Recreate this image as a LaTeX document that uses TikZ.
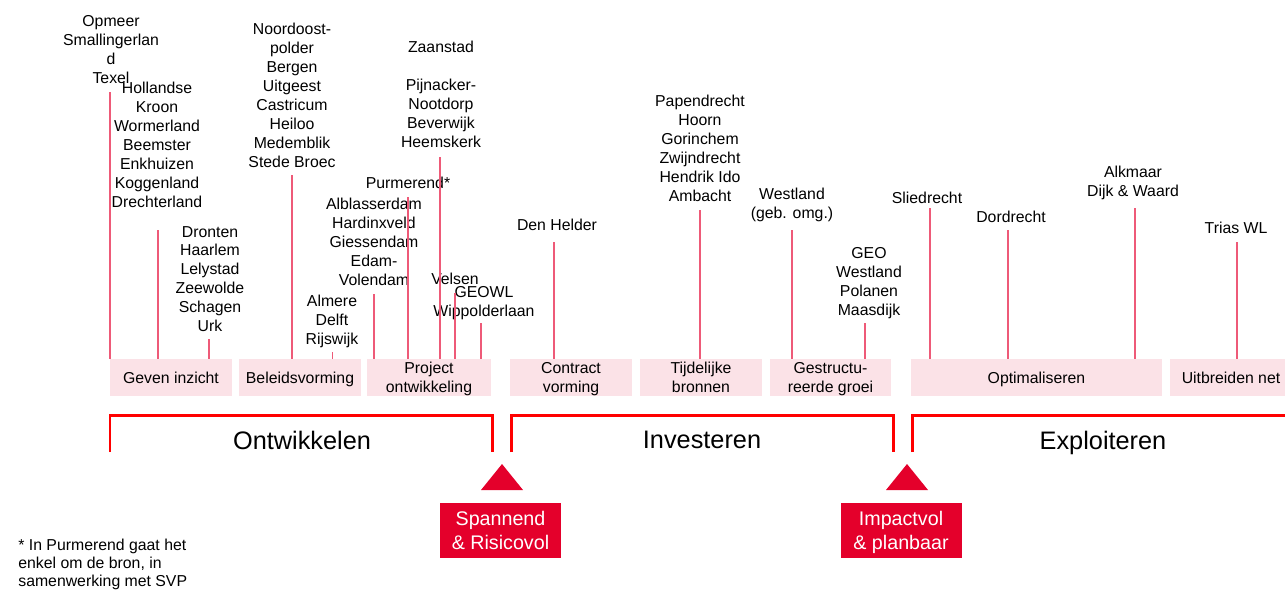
\documentclass[tikz,border=0pt]{standalone}
\usepackage{fontspec}
\setmainfont{Liberation Sans}
\usetikzlibrary{positioning}

\definecolor{linkpink}{RGB}{238,90,120}
\definecolor{boxpink}{RGB}{251,226,231}
\definecolor{brred}{RGB}{255,0,0}
\definecolor{gatered}{RGB}{228,0,43}

\tikzset{
	lbl/.style={align=center, inner sep=0pt, text depth=0pt, font=\fontsize{9}{10.8}\selectfont},
	phasebox/.style={fill=boxpink, minimum width=24.4mm, minimum height=7.4mm, inner sep=0pt, text depth=0pt, align=center, font=\fontsize{9}{10.8}\selectfont},
	link/.style={draw=linkpink, line width=0.6pt},
	bracket/.style={draw=brred, line width=1.7pt},
	gatebox/.style={fill=gatered, text=white, minimum width=24.2mm, minimum height=11mm, inner sep=0pt, text depth=0pt, align=center, font=\fontsize{11.2}{13.6}\selectfont},
	phase/.style={inner sep=0pt, text depth=0pt, font=\fontsize{14.4}{17}\selectfont},
}

\begin{document}
\begin{tikzpicture}[x=0.2mm, y=-0.2mm]
	\useasboundingbox (0,0) rectangle (1285,589);
	% steps
	\node[phasebox] (gev) at (171,377.5) {Geven inzicht};
	\node[phasebox] (bel) at (300,377.5) {Beleidsvorming};
	\node[phasebox, minimum width=24.8mm] (pro) at (429,377.5) {Project\\ontwikkeling};
	\node[phasebox] (con) at (571,377.5) {Contract\\vorming};
	\node[phasebox] (tij) at (701,377.5) {Tijdelijke\\bronnen};
	\node[phasebox, minimum width=24.2mm] (ges) at (830.5,377.5) {Gestructu-\\reerde groei};
	\node[phasebox, minimum width=50.2mm] (opt) at (1036.5,377.5) {Optimaliseren};
	\node[phasebox] (uit) at (1231,377.5) {Uitbreiden net};
	% municipalities
	\node[lbl] (opm) at (111,49.5) {Opmeer\\Smallingerlan\\d\\Texel};
	\node[lbl] (hol) at (157,144.5) {Hollandse\\Kroon\\Wormerland\\Beemster\\Enkhuizen\\Koggenland\\Drechterland};
	\node[lbl] (dro) at (210,279) {Dronten\\Haarlem\\Lelystad\\Zeewolde\\Schagen\\Urk};
	\node[lbl] (noo) at (292,95) {Noordoost-\\polder\\Bergen\\Uitgeest\\Castricum\\Heiloo\\Medemblik\\Stede Broec};
	\node[lbl] (alm) at (332,320) {Almere\\Delft\\Rijswijk};
	\node[lbl] (alb) at (374,242) {Alblasserdam\\Hardinxveld\\Giessendam\\Edam-\\Volendam};
	\node[lbl] (pur) at (408,183) {Purmerend*};
	\node[lbl] (zaa) at (441,94.5) {Zaanstad\\[10.8pt]Pijnacker-\\Nootdorp\\Beverwijk\\Heemskerk};
	\node[lbl] (vel) at (455,279) {Velsen};
	\node[lbl] (geowl) at (484,301) {GEOWL\\Wippolderlaan};
	\node[lbl] (den) at (557,225) {Den Helder};
	\node[lbl] (pap) at (700,148) {Papendrecht\\Hoorn\\Gorinchem\\Zwijndrecht\\Hendrik Ido\\Ambacht};
	\node[lbl] (wes) at (792,203.5) {Westland\\(geb. omg.)};
	\node[lbl] (geo) at (869,281) {GEO\\Westland\\Polanen\\Maasdijk};
	\node[lbl] (sli) at (927,198) {Sliedrecht};
	\node[lbl] (dor) at (1011,217) {Dordrecht};
	\node[lbl] (alk) at (1133,181) {Alkmaar\\Dijk \& Waard};
	\node[lbl] (tri) at (1236,228) {Trias WL};
	% line tops
	\coordinate (opmT) at (110,92);
	\coordinate (holT) at (158,230);
	\coordinate (droT) at (209,339);
	\coordinate (nooT) at (292,175);
	\coordinate (almT) at (332.5,352);
	\coordinate (albT) at (374,294);
	\coordinate (purT) at (408,197);
	\coordinate (zaaT) at (440,157);
	\coordinate (velT) at (455,293);
	\coordinate (geowlT) at (481,323);
	\coordinate (denT) at (554,242);
	\coordinate (papT) at (700,210);
	\coordinate (wesT) at (792,230);
	\coordinate (geoT) at (865,323);
	\coordinate (sliT) at (930,208);
	\coordinate (dorT) at (1008,230);
	\coordinate (alkT) at (1135,208);
	\coordinate (triT) at (1237,242);
	\draw[link] (opmT) -- (opmT |- gev.north);
	\draw[link] (holT) -- (holT |- gev.north);
	\draw[link] (droT) -- (droT |- gev.north);
	\draw[link] (nooT) -- (nooT |- bel.north);
	\draw[link] (almT) -- (almT |- bel.north);
	\draw[link] (albT) -- (albT |- pro.north);
	\draw[link] (purT) -- (purT |- pro.north);
	\draw[link] (zaaT) -- (zaaT |- pro.north);
	\draw[link] (velT) -- (velT |- pro.north);
	\draw[link] (geowlT) -- (geowlT |- pro.north);
	\draw[link] (denT) -- (denT |- con.north);
	\draw[link] (papT) -- (papT |- tij.north);
	\draw[link] (wesT) -- (wesT |- ges.north);
	\draw[link] (geoT) -- (geoT |- ges.north);
	\draw[link] (sliT) -- (sliT |- opt.north);
	\draw[link] (dorT) -- (dorT |- opt.north);
	\draw[link] (alkT) -- (alkT |- opt.north);
	\draw[link] (triT) -- (triT |- uit.north);
	% phases
	\draw[bracket] (110,452) |- (492,415) -- (492,452);
	\draw[bracket] (511,452) |- (893,415) -- (893,452);
	\draw[bracket] (912,452) |- (1300,415);
	\node[phase] (ont) at (302,440) {Ontwikkelen};
	\node[phase] (inv) at (702,440) {Investeren};
	\node[phase] (exp) at (1103,440) {Exploiteren};
	% gates
	\fill[gatered] (502,464) -- (523,490) -- (481,490) -- cycle;
	\fill[gatered] (907,464) -- (928,490) -- (886,490) -- cycle;
	\node[gatebox] (span) at (500.5,530.5) {Spannend\\\& Risicovol};
	\node[gatebox] (imp) at (901,530.5) {Impactvol\\\& planbaar};
	\node[anchor=north west, align=left, inner sep=0pt, font=\fontsize{9}{10.2}\selectfont] (note) at (18,539) {* In Purmerend gaat het\\enkel om de bron, in\\samenwerking met SVP};
\end{tikzpicture}
\end{document}
